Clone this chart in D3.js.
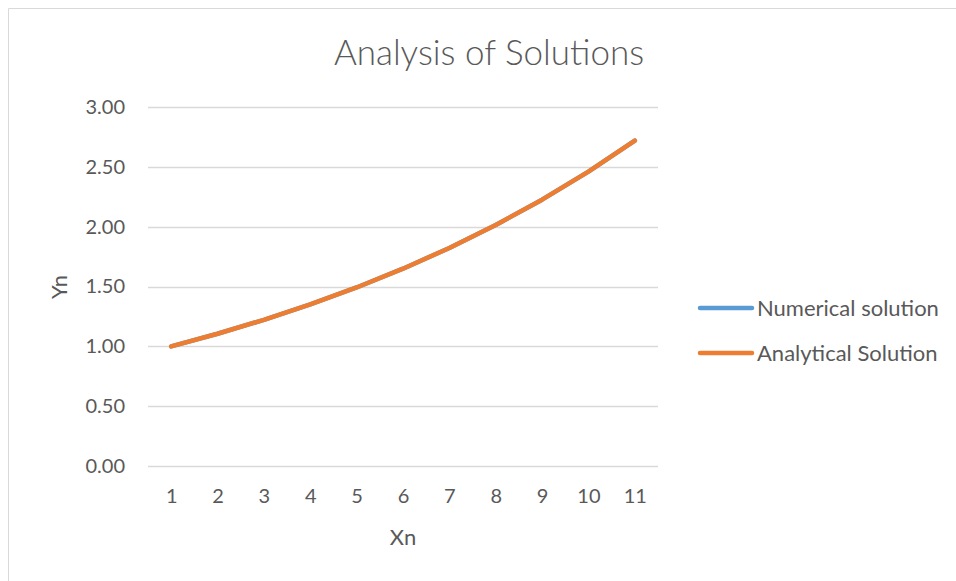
<!DOCTYPE html>
<html>
<head>
<meta charset="utf-8">
<script src="https://cdn.jsdelivr.net/npm/d3@7"></script>
<style>
  html, body { margin: 0; padding: 0; background: #fff; }
  svg text { font-family: Lato, "Open Sans", sans-serif; fill: #595959; }
</style>
</head>
<body>
<svg id="chart" width="956" height="581"></svg>
<script>
// Step index n and the two solutions y_n
const steps = [1, 2, 3, 4, 5, 6, 7, 8, 9, 10, 11];
const numerical = [1.0000, 1.1052, 1.2214, 1.3499, 1.4918, 1.6487, 1.8221, 2.0138, 2.2255, 2.4596, 2.7183];
const analytical = [1.0000, 1.1052, 1.2214, 1.3499, 1.4918, 1.6487, 1.8221, 2.0138, 2.2255, 2.4596, 2.7183];
const yTicks = [0, 0.5, 1.0, 1.5, 2.0, 2.5, 3.0];
const seriesNames = ["Numerical solution", "Analytical Solution"];
const seriesColors = ["#5B9BD5", "#ED7D31"];

const svg = d3.select("#chart");

// chart frame
svg.append("line").attr("x1", 8.5).attr("x2", 956).attr("y1", 8.5).attr("y2", 8.5)
  .attr("stroke", "#d9d9d9").attr("stroke-width", 1);
svg.append("line").attr("x1", 8.5).attr("x2", 8.5).attr("y1", 8.5).attr("y2", 581)
  .attr("stroke", "#d9d9d9").attr("stroke-width", 1);

const plot = { left: 148, right: 658, top: 107, bottom: 466 };

const x = d3.scalePoint().domain(steps).range([plot.left, plot.right]).padding(0.5);
const y = d3.scaleLinear().domain([0, 3]).range([plot.bottom, plot.top]);

// gridlines
svg.append("g").selectAll("line").data(yTicks).join("line")
  .attr("x1", plot.left).attr("x2", plot.right)
  .attr("y1", d => Math.round(y(d)) + 0.5).attr("y2", d => Math.round(y(d)) + 0.5)
  .attr("stroke", "#d9d9d9").attr("stroke-width", 1.5);

// y axis labels
const yAxis = d3.axisLeft(y).tickValues(yTicks).tickFormat(d3.format(".2f")).tickSize(0).tickPadding(23);
const gy = svg.append("g").attr("transform", `translate(${plot.left},0)`).call(yAxis);
gy.select(".domain").remove();
gy.selectAll("text").attr("font-size", 20).style("font-family", "Lato, sans-serif").attr("fill", "#595959");

// x axis labels
const xAxis = d3.axisBottom(x).tickSize(0).tickPadding(23);
const gx = svg.append("g").attr("transform", `translate(0,${plot.bottom})`).call(xAxis);
gx.select(".domain").remove();
gx.selectAll("text").attr("font-size", 20).style("font-family", "Lato, sans-serif").attr("fill", "#595959");

// series lines (numerical first so analytical sits on top)
const line = d3.line().x((d, i) => x(steps[i])).y(d => y(d));
[numerical, analytical].forEach((vals, k) => {
  svg.append("path").datum(vals)
    .attr("d", line)
    .attr("fill", "none")
    .attr("stroke", seriesColors[k])
    .attr("stroke-width", 4.5)
    .attr("stroke-linecap", "round")
    .attr("stroke-linejoin", "round");
});

// title
svg.append("text").attr("x", 489).attr("y", 65).attr("text-anchor", "middle")
  .attr("font-size", 35).attr("font-weight", 300).text("Analysis of Solutions");

// axis titles
svg.append("text").attr("transform", "translate(67,287) rotate(-90)")
  .attr("text-anchor", "middle").attr("font-size", 22).text("Yn");
svg.append("text").attr("x", 403).attr("y", 545).attr("text-anchor", "middle")
  .attr("font-size", 22).text("Xn");

// legend
const legend = svg.append("g").selectAll("g").data(seriesNames).join("g")
  .attr("transform", (d, i) => `translate(700,${308 + i * 45})`);
legend.append("line").attr("x1", 0).attr("x2", 52).attr("y1", 0).attr("y2", 0)
  .attr("stroke", (d, i) => seriesColors[i]).attr("stroke-width", 4.5).attr("stroke-linecap", "round");
legend.append("text").attr("x", 57).attr("y", 8).attr("font-size", 22).text(d => d);
</script>
</body>
</html>
